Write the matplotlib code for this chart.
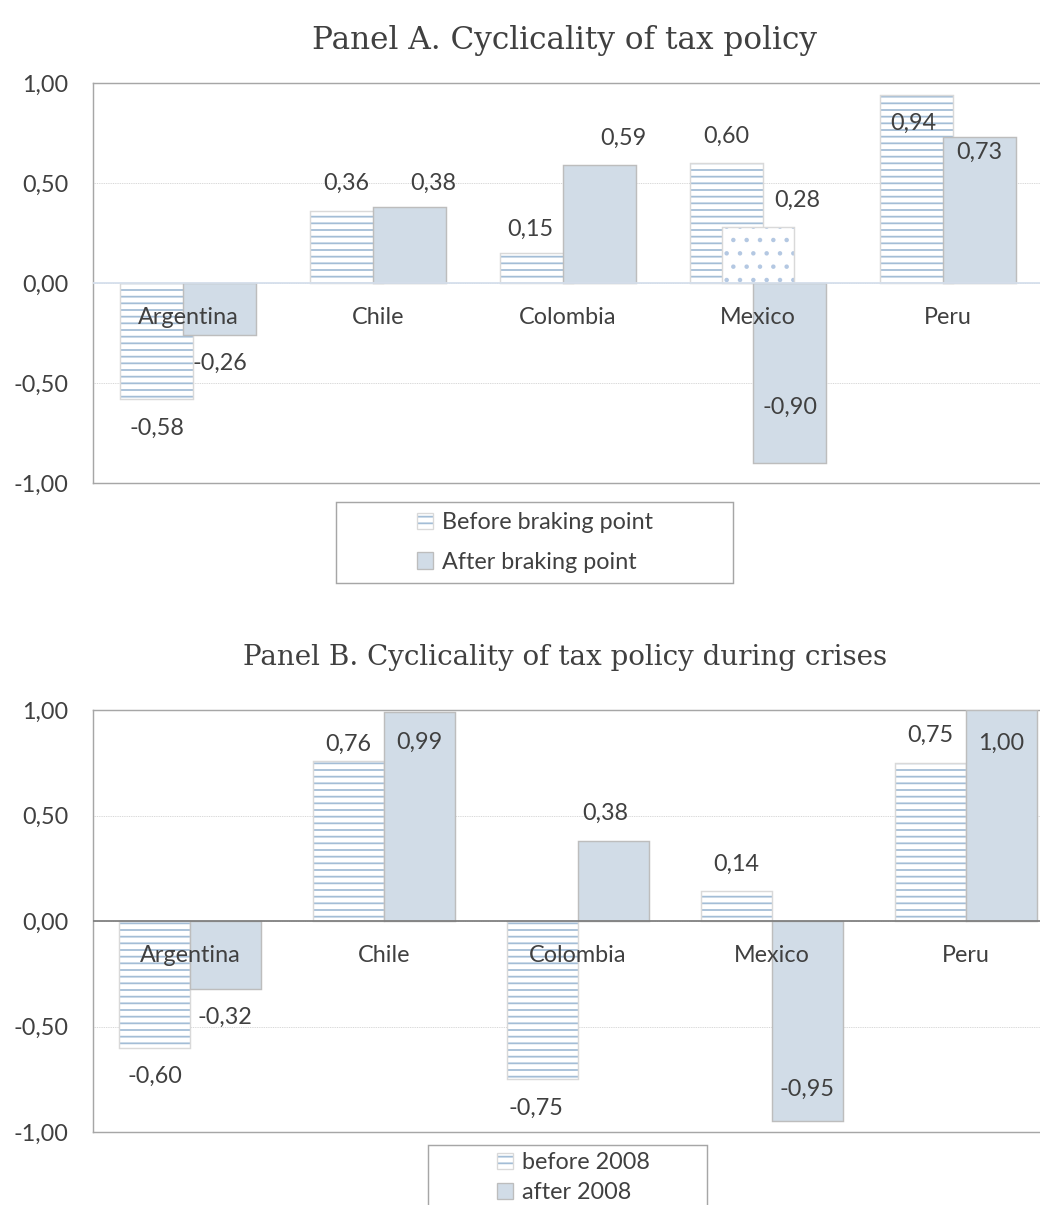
import numpy as np
import matplotlib.pyplot as plt
from matplotlib.patches import Patch, Rectangle
from matplotlib.ticker import FuncFormatter

countries = ["Argentina", "Chile", "Colombia", "Mexico", "Peru"]

# Panel A: before / after the braking point
before_break = [-0.58, 0.36, 0.15, 0.60, 0.94]
after_break = [-0.26, 0.38, 0.59, -0.90, 0.73]
mexico_extra = 0.28  # dotted bar shown for Mexico only

# Panel B: crises, before / after 2008
before_2008 = [-0.60, 0.76, -0.75, 0.14, 0.75]
after_2008 = [-0.32, 0.99, 0.38, -0.95, 1.00]

yticks = [-1.0, -0.5, 0.0, 0.5, 1.0]

# label nudges in pixels (dx, dy) from the bar end
nudge_a_before = [(0, -29), (0, 28), (-6, 24), (0, 27), (-3, -28)]
nudge_a_after = [(0, -28), (24, 24), (24, 27), (0, 56), (0, -15)]
nudge_a_extra = (39, 27)
nudge_b_before = [(0, -29), (0, 16), (-7, -29), (0, 27), (0, 27)]
nudge_b_after = [(0, -29), (0, -30), (-8, 27), (0, 32), (0, -33)]

W, H, DPI = 1040, 1205, 80
FS = 21
TXT = "#404040"
STRIPE = "#A3BDD6"
AFTER = "#D1DCE7"
AFTER_EDGE = "#BDBDBD"
BEFORE_EDGE = "#D9D9D9"

plt.rcParams["font.family"] = ["Lato", "DejaVu Sans"]
plt.rcParams["hatch.linewidth"] = 1.6

fig = plt.figure(figsize=(W / DPI, H / DPI), dpi=DPI)


def comma(v, pos=None):
    return f"{v:.2f}".replace(".", ",")


def px_axes(left, top, width, height):
    return fig.add_axes([left / W, 1 - (top + height) / H, width / W, height / H])


def setup(ax, zero_color):
    ax.set_xlim(-0.5, 4.5)
    ax.set_ylim(-1, 1)
    ax.set_yticks(yticks)
    ax.yaxis.set_major_formatter(FuncFormatter(comma))
    ax.set_xticks([])
    ax.tick_params(axis="y", length=0, pad=22, labelsize=FS, labelcolor=TXT)
    ax.yaxis.grid(True, linestyle=(0, (1, 1)), color="#CFCFCF", lw=0.8)
    ax.set_axisbelow(True)
    for s in ax.spines.values():
        s.set_color("#A6A6A6")
        s.set_linewidth(1.3)
    ax.axhline(0, color=zero_color, lw=1.6, zorder=4)
    for i, c in enumerate(countries):
        ax.annotate(c, (i, 0), xytext=(0, -34), textcoords="offset pixels",
                    ha="center", va="center", fontsize=FS, color=TXT, zorder=6)


def striped(ax, x, vals, w):
    ax.bar(x, vals, w, color="white", edgecolor=STRIPE, hatch="--", lw=0, zorder=2)
    ax.bar(x, vals, w, color="none", edgecolor=BEFORE_EDGE, lw=1.3, zorder=2.1)


def solid(ax, x, vals, w):
    ax.bar(x, vals, w, color=AFTER, edgecolor=AFTER_EDGE, lw=1.3, zorder=3)


def labels(ax, x, vals, nudges):
    for xi, v, (dx, dy) in zip(x, vals, nudges):
        ax.annotate(comma(v), (xi, v), xytext=(dx, dy), textcoords="offset pixels",
                    ha="center", va="center", fontsize=FS, color=TXT, zorder=7)


idx = np.arange(len(countries))

# ---- Panel A
axA = px_axes(93, 83, 950, 400)
setup(axA, "#D5DFEC")
wA, offA = 0.384, 0.166
striped(axA, idx - offA, before_break, wA)
axA.bar(3, mexico_extra, wA, color="white", edgecolor="#B4C8E2", hatch=".", lw=0, zorder=2.5)
axA.bar(3, mexico_extra, wA, color="none", edgecolor=BEFORE_EDGE, lw=1.3, zorder=2.6)
solid(axA, idx + offA, after_break, wA)
labels(axA, idx - offA, before_break, nudge_a_before)
labels(axA, idx + offA, after_break, nudge_a_after)
labels(axA, [3], [mexico_extra], [nudge_a_extra])

# ---- Panel B
axB = px_axes(93, 710, 970, 422)
setup(axB, "#7F7F7F")
wB, offB = 0.365, 0.182
striped(axB, idx - offB, before_2008, wB)
solid(axB, idx + offB, after_2008, wB)
labels(axB, idx - offB, before_2008, nudge_b_before)
labels(axB, idx + offB, after_2008, nudge_b_after)

# titles
title_font = dict(family="DejaVu Serif", color=TXT, ha="center", va="center")
fig.text(565 / W, 1 - 40 / H, "Panel A. Cyclicality of tax policy", fontsize=28, **title_font)
fig.text(565 / W, 1 - 658 / H, "Panel B. Cyclicality of tax policy during crises",
         fontsize=25, **title_font)

# legends
h_before = (Patch(facecolor="white", edgecolor=STRIPE, hatch="--", lw=0),
            Patch(facecolor="none", edgecolor=BEFORE_EDGE, lw=1.2))
h_after = Patch(facecolor=AFTER, edgecolor=AFTER_EDGE, lw=1.2)


def legend_box(x0, y0, x1, y1):
    fig.patches.append(Rectangle((x0 / W, 1 - y1 / H), (x1 - x0) / W, (y1 - y0) / H,
                                 transform=fig.transFigure, facecolor="white",
                                 edgecolor="#A6A6A6", lw=1.3, zorder=0))


legend_box(336, 502, 733, 583)
fig.legend([h_before, h_after], ["Before braking point", "After braking point"],
           loc="upper left", bbox_to_anchor=(417 / W, 1 - 512 / H), frameon=False,
           fontsize=FS, borderpad=0, borderaxespad=0, handlelength=0.7,
           handleheight=0.7, handletextpad=0.35, labelspacing=0.8, labelcolor=TXT)

legend_box(428, 1145, 707, 1215)
fig.legend([h_before, h_after], ["before 2008", "after 2008"],
           loc="upper left", bbox_to_anchor=(497 / W, 1 - 1152 / H), frameon=False,
           fontsize=FS, borderpad=0, borderaxespad=0, handlelength=0.7,
           handleheight=0.7, handletextpad=0.35, labelspacing=0.4, labelcolor=TXT)

fig.savefig("out.png", dpi=DPI)
